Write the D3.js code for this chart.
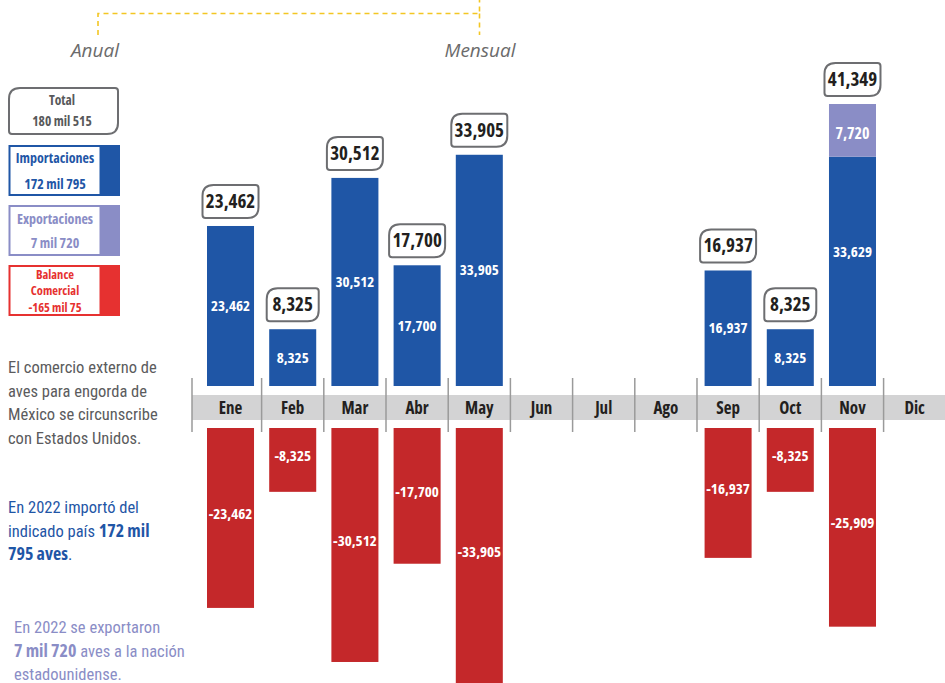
<!DOCTYPE html>
<html><head><meta charset="utf-8">
<script src="https://cdn.jsdelivr.net/npm/d3@7"></script>
<style>
body{margin:0;background:#fff;}
svg{display:block;}
text{font-family:"Open Sans",sans-serif;font-stretch:condensed;}
text.rc, tspan.rc{font-family:Roboto,sans-serif;font-stretch:condensed;}
</style></head><body>
<svg id="c" width="945" height="683"></svg>
<script>
const months = ["Ene","Feb","Mar","Abr","May","Jun","Jul","Ago","Sep","Oct","Nov","Dic"];
const importaciones = [23462, 8325, 30512, 17700, 33905, null, null, null, 16937, 8325, 33629, null];
const exportaciones = [null, null, null, null, null, null, null, null, null, null, 7720, null];
const balance = [-23462, -8325, -30512, -17700, -33905, null, null, null, -16937, -8325, -25909, null];
const totales = [23462, 8325, 30512, 17700, 33905, null, null, null, 16937, 8325, 41349, null];
const legendLabels = ["Total","Importaciones","Exportaciones","Balance Comercial"];
const legendValues = ["180 mil 515","172 mil 795","7 mil 720","-165 mil 75"];

const BLUE="#1f56a6", PURPLE="#8a8dc6", RED="#c4282a", LRED="#e63130";
const svg = d3.select("#c");
const fmt = d3.formatLocale({decimal:".",thousands:",",grouping:[3],currency:["$",""],minus:"-"}).format(",");

const x = d3.scaleBand().domain(months).range([207, 938.2]).paddingInner(0.244).paddingOuter(0);
const yPos = d3.scaleLinear().domain([0, 41349]).range([386, 104]);
const yNeg = d3.scaleLinear().domain([0, -33905]).range([428, 688]);
const gapHalf = (x.step()-x.bandwidth())/2;

// top dashed bracket
svg.append("path").attr("d","M98,35 V13.5 H479.5 V0 M479.5,13.5 V35")
  .attr("fill","none").attr("stroke","#f3c623").attr("stroke-width",1.6).attr("stroke-dasharray","5,4");
svg.append("text").attr("x",95).attr("y",57).attr("text-anchor","middle").attr("font-style","italic")
  .attr("fill","#6b6b6b").style("font-stretch","normal").style("font-size","19px").text("Anual");
svg.append("text").attr("x",480).attr("y",57).attr("text-anchor","middle").attr("font-style","italic")
  .attr("fill","#6b6b6b").style("font-stretch","normal").style("font-size","19px").text("Mensual");

// axis band
svg.append("rect").attr("x",192).attr("y",395).attr("width",753).attr("height",25).attr("fill","#d3d3d4");
svg.append("g").selectAll("line").data(months).join("line")
  .attr("x1",(d,i)=> i===0?192:x(d)-gapHalf).attr("x2",(d,i)=> i===0?192:x(d)-gapHalf)
  .attr("y1",378).attr("y2",432).attr("stroke","#9a9a9a").attr("stroke-width",1.5);
svg.append("g").selectAll("text").data(months).join("text")
  .attr("x",d=>x(d)+x.bandwidth()/2).attr("y",414).attr("text-anchor","middle")
  .attr("font-weight","bold").attr("font-size",17).attr("fill","#231f20").text(d=>d);

// import bars
const idx = d3.range(months.length);
svg.append("g").selectAll("rect").data(idx.filter(i=>importaciones[i]!=null)).join("rect")
  .attr("x",i=>x(months[i])).attr("width",x.bandwidth())
  .attr("y",i=>yPos(importaciones[i])).attr("height",i=>yPos(0)-yPos(importaciones[i])).attr("fill",BLUE);
// export bars stacked
svg.append("g").selectAll("rect").data(idx.filter(i=>exportaciones[i]!=null)).join("rect")
  .attr("x",i=>x(months[i])).attr("width",x.bandwidth())
  .attr("y",i=>yPos(importaciones[i]+exportaciones[i])).attr("height",i=>yPos(importaciones[i])-yPos(importaciones[i]+exportaciones[i])).attr("fill",PURPLE);
// balance bars
svg.append("g").selectAll("rect").data(idx.filter(i=>balance[i]!=null)).join("rect")
  .attr("x",i=>x(months[i])).attr("width",x.bandwidth())
  .attr("y",yNeg(0)).attr("height",i=>yNeg(balance[i])-yNeg(0)).attr("fill",RED);

// inner labels
const lab = svg.append("g").attr("fill","#fff").attr("font-weight","bold").attr("font-size",15).attr("text-anchor","middle");
idx.filter(i=>importaciones[i]!=null).forEach(i=>{
  const cy = (yPos(importaciones[i])+yPos(0))/2;
  lab.append("text").attr("x",x(months[i])+x.bandwidth()/2).attr("y",(exportaciones[i]!=null?cy-19:cy)+5).text(fmt(importaciones[i]));
});
idx.filter(i=>exportaciones[i]!=null).forEach(i=>{
  const cy = (yPos(importaciones[i]+exportaciones[i])+yPos(importaciones[i]))/2;
  lab.append("text").attr("x",x(months[i])+x.bandwidth()/2).attr("y",cy+9).attr("font-size",16).text(fmt(exportaciones[i]));
});
idx.filter(i=>balance[i]!=null).forEach(i=>{
  const b = Math.min(yNeg(balance[i]),683);
  const cy = (yNeg(0)+b)/2;
  lab.append("text").attr("x",x(months[i])+x.bandwidth()/2).attr("y",cy+1).text(fmt(balance[i]));
});

// callout shape
function callout(x0,y0,w,h){
  const a=11,b=3;
  return `M${x0+a},${y0} H${x0+w-b} Q${x0+w},${y0} ${x0+w},${y0+b} V${y0+h-a} Q${x0+w},${y0+h} ${x0+w-a},${y0+h} H${x0+b} Q${x0},${y0+h} ${x0},${y0+h-b} V${y0+a} Q${x0},${y0} ${x0+a},${y0} Z`;
}
const co = svg.append("g");
idx.filter(i=>totales[i]!=null).forEach(i=>{
  const cx = x(months[i])+x.bandwidth()/2;
  const s = fmt(totales[i]);
  const w = s.length>5?56:52, h=33;
  const yb = yPos(totales[i]) - 8;
  co.append("path").attr("d",callout(cx-w/2,yb-h,w,h)).attr("fill","#fff").attr("stroke","#6d6e71").attr("stroke-width",2);
  co.append("text").attr("x",cx).attr("y",yb-h/2+6.5).attr("text-anchor","middle").attr("font-weight","bold")
    .attr("font-size",19).attr("fill","#231f20").text(s);
});

// left legend
const lg = svg.append("g");
lg.append("path").attr("d",callout(9,88,109,46)).attr("fill","#fff").attr("stroke","#6d6e71").attr("stroke-width",2);
lg.append("text").attr("x",62).attr("y",105).attr("text-anchor","middle").attr("font-weight","bold").attr("font-size",13.5).attr("fill","#58595b").text(legendLabels[0]);
lg.append("text").attr("x",62).attr("y",126).attr("text-anchor","middle").attr("font-weight","bold").attr("font-size",13.5).attr("fill","#58595b").text(legendValues[0]);
const boxes = [
  {c:BLUE,y:145,lines:[legendLabels[1],legendValues[1]],ys:[163,189],fs:14},
  {c:PURPLE,y:205,lines:[legendLabels[2],legendValues[2]],ys:[224,248],fs:14},
  {c:LRED,y:265,lines:["Balance","Comercial",legendValues[3]],ys:[278.5,295,311.5],fs:12.5}
];
boxes.forEach(bx=>{
  lg.append("rect").attr("x",100).attr("y",bx.y).attr("width",20).attr("height",51).attr("fill",bx.c);
  lg.append("rect").attr("x",9.5).attr("y",bx.y+1).attr("width",91).attr("height",49).attr("fill","#fff").attr("stroke",bx.c).attr("stroke-width",2);
  bx.lines.forEach((t,k)=>lg.append("text").attr("x",55).attr("y",bx.ys[k]).attr("text-anchor","middle")
    .attr("font-weight","bold").attr("font-size",bx.fs).attr("fill",bx.c).text(t));
});

// paragraphs
function para(lines, x0, y0, color){
  lines.forEach((ln,k)=>{
    const t = svg.append("text").attr("x",x0).attr("y",y0+k*23.5).attr("font-size",16.5).attr("fill",color);
    ln.forEach(seg=>t.append("tspan").attr("class",seg[1]?null:"rc").attr("font-weight",seg[1]?"bold":"normal")
      .style("font-size",seg[1]?"18px":null).text(seg[0]));
  });
}
para([[["El comercio externo de"]],[["aves para engorda de"]],[["México se circunscribe"]],[["con Estados Unidos."]]],8,373,"#5b5b5d");
para([[["En 2022 importó del"]],[["indicado país "],["172 mil",1]],[["795 aves",1],["."]]],8,513,BLUE);
para([[["En 2022 se exportaron"]],[["7 mil 720",1],[" aves a la nación"]],[["estadounidense."]]],14,633,PURPLE);
</script>
</body></html>
